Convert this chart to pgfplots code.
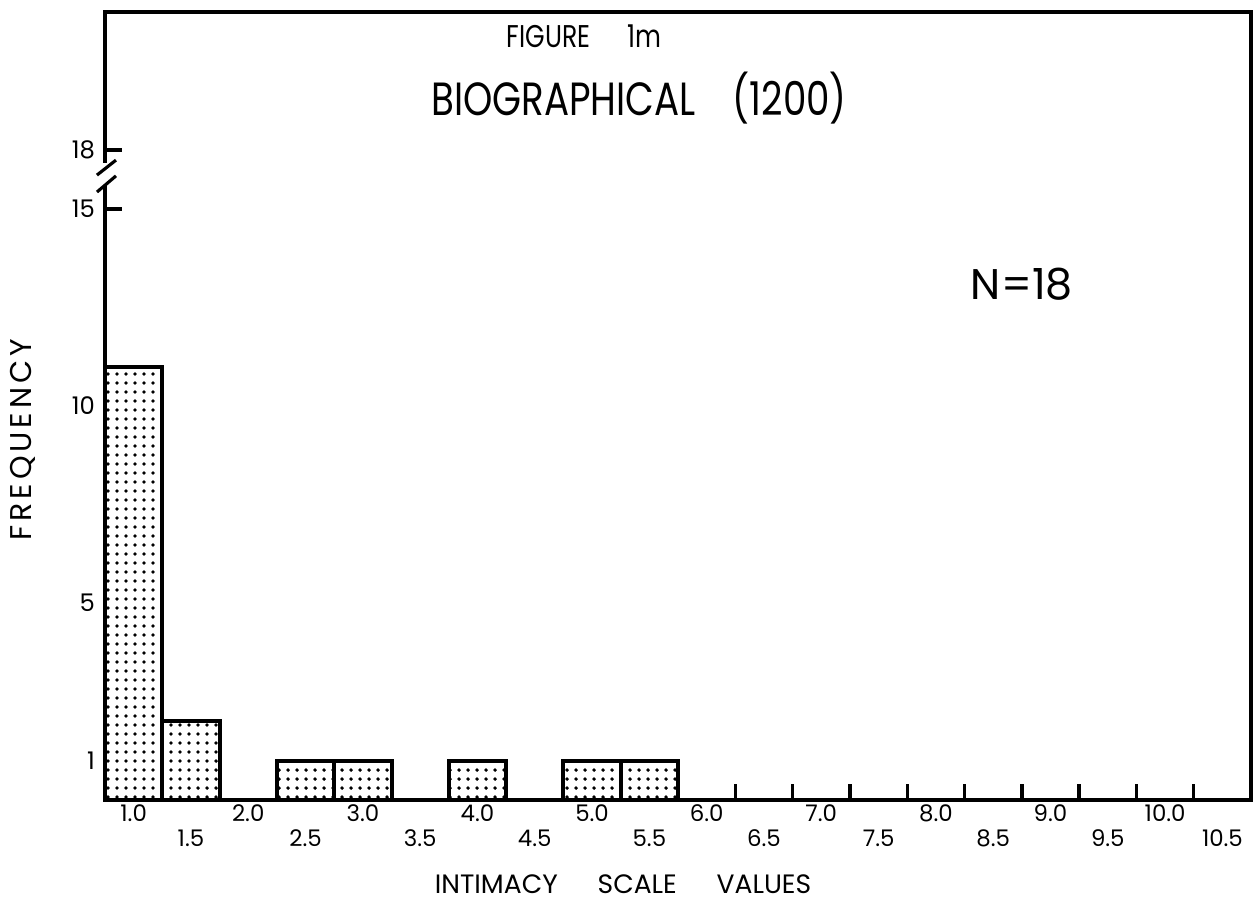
\documentclass[border=0pt]{standalone}
\usepackage{fontspec}
\setmainfont{Poppins}
\newfontfamily\narrowfont[FakeStretch=0.8]{Poppins}
\newfontfamily\spacedfont[LetterSpace=13]{Poppins}
\usepackage{pgfplots}
\pgfplotsset{compat=1.18}
\usetikzlibrary{patterns}
% dense dot screen of the bars
\pgfdeclarepatternformonly{bigdots}{\pgfqpoint{-1pt}{-1pt}}{\pgfqpoint{1pt}{1pt}}{\pgfqpoint{3.15pt}{3.15pt}}{%
  \pgfpathcircle{\pgfqpoint{0pt}{0pt}}{0.68pt}\pgfusepath{fill}}

\begin{document}
\begin{tikzpicture}
\begin{axis}[
  scale only axis, width=401.1pt, height=275.8pt,
  xmin=0.75, xmax=10.75, ymin=0, ymax=20,
  clip=false,
  axis line style={line width=1.2pt},
  xtick={1,2,3,4,5,6,7,8,9,10},
  xticklabels={1.0,2.0,3.0,4.0,5.0,6.0,7.0,8.0,9.0,10.0},
  extra x ticks={1.5,2.5,3.5,4.5,5.5,6.5,7.5,8.5,9.5,10.5},
  extra x tick labels={1.5,2.5,3.5,4.5,5.5,6.5,7.5,8.5,9.5,10.5},
  extra x tick style={xticklabel style={yshift=-8.75pt}},
  minor xtick={6.25,6.75,7.25,7.75,8.25,8.75,9.25,9.75,10.25},
  minor tick length=5.5pt,
  major tick length=0pt,
  ytick={1,5,10}, yticklabels={1,5,10},
  extra y ticks={15,16.5}, extra y tick labels={15,18},
  extra y tick style={major tick length=6pt},
  xtick pos=bottom, ytick pos=left, tick align=inside,
  tick style={line width=1.2pt, black},
  xticklabel style={font=\fontsize{8}{9}\selectfont, inner sep=1.5pt},
  yticklabel style={font=\fontsize{8.5}{9}\selectfont},
  /pgf/number format/assume math mode=true,
  ylabel={\spacedfont FREQUENCY},
  ylabel style={at={(axis description cs:-0.0716,0.457)}, anchor=center, font=\fontsize{10.5}{11}\selectfont},
  xlabel={INTIMACY\hspace{1.5em}SCALE\hspace{1.5em}VALUES},
  xlabel style={at={(axis description cs:0.452,-0.1066)}, anchor=center, font=\fontsize{9.3}{10}\selectfont},
]
\addplot[ybar, bar width=0.5, draw=black, line width=1.4pt, pattern=bigdots, pattern color=black]
  coordinates {(1.0,11) (1.5,2) (2.5,1) (3.0,1) (4.0,1) (5.0,1) (5.5,1)};

% axis break between 15 and 18
\fill[white] (axis cs:0.70,15.58) rectangle (axis cs:0.80,16.17);
\draw[line width=1.1pt] (axis cs:0.68,15.86) -- (axis cs:0.846,16.24);
\draw[line width=1.1pt] (axis cs:0.68,15.43) -- (axis cs:0.846,15.84);

\node[font=\fontsize{11}{12}\narrowfont] at (rel axis cs:0.418,0.9695) {FIGURE\hspace{13pt}1m};
\node[font=\fontsize{16.3}{18}\narrowfont] at (rel axis cs:0.466,0.891) {BIOGRAPHICAL\hspace{13pt}(1200)};
\node[font=\fontsize{15}{16}\selectfont] at (rel axis cs:0.800,0.655) {N=18};

\coordinate (A) at (axis description cs:-0.0916,-0.1447);
\coordinate (B) at (axis description cs:1.0017,1.0152);
\end{axis}
\pgfresetboundingbox
\path[use as bounding box] (A) rectangle (B);
\end{tikzpicture}
\end{document}
